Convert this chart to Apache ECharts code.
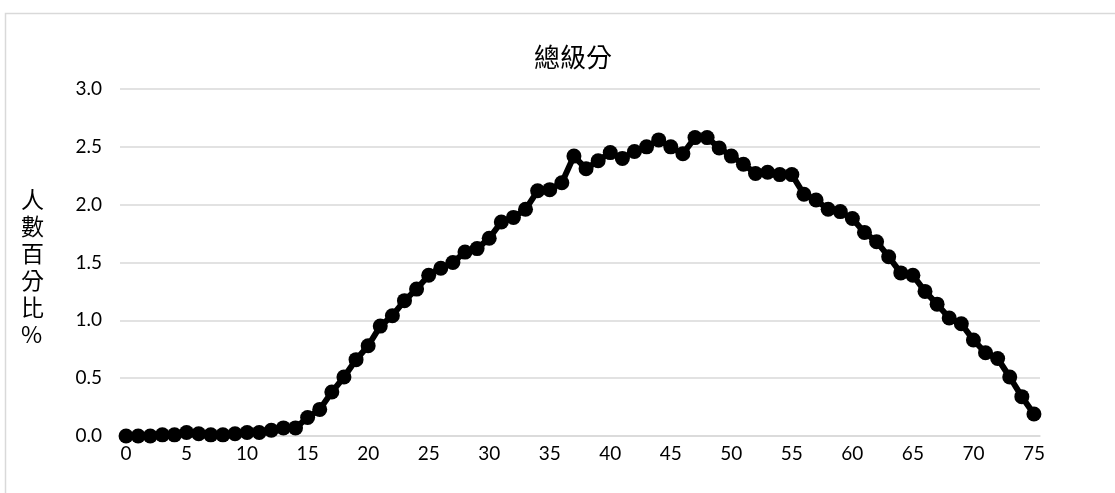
<!DOCTYPE html>
<html>
<head>
<meta charset="utf-8">
<script src="https://cdn.jsdelivr.net/npm/echarts@6/dist/echarts.min.js"></script>
<style>
  html, body { margin: 0; padding: 0; background: #fff; }
  #chart { width: 1115px; height: 493px; }
</style>
</head>
<body>
<div id="chart"></div>
<script>
// 級分 0..75
const scores = []
for (let s = 0; s <= 75; s++) scores.push(String(s))

// 人數百分比 (%)
const percents = [
  0.00, 0.00, 0.00, 0.01, 0.01, 0.03, 0.02, 0.01, 0.01, 0.02,
  0.03, 0.03, 0.05, 0.07, 0.07, 0.16, 0.23, 0.38, 0.51, 0.66,
  0.78, 0.95, 1.04, 1.17, 1.27, 1.39, 1.45, 1.50, 1.59, 1.62,
  1.71, 1.85, 1.89, 1.96, 2.12, 2.13, 2.19, 2.42, 2.31, 2.38,
  2.45, 2.40, 2.46, 2.50, 2.56, 2.50, 2.44, 2.58, 2.58, 2.49,
  2.42, 2.35, 2.27, 2.28, 2.26, 2.26, 2.09, 2.04, 1.96, 1.94,
  1.88, 1.76, 1.68, 1.55, 1.41, 1.39, 1.25, 1.14, 1.02, 0.97,
  0.83, 0.72, 0.67, 0.51, 0.34, 0.19
]

const yTicks = [0, 0.5, 1.0, 1.5, 2.0, 2.5, 3.0]

const chart = echarts.init(document.getElementById('chart'))
chart.setOption({
  animation: false,
  backgroundColor: '#fff',
  textStyle: { fontFamily: 'Lato, "Noto Sans CJK TC", sans-serif' },
  title: {
    text: '總級分',
    left: 529,
    top: 39,
    textStyle: {
      fontFamily: '"Noto Sans CJK TC", sans-serif',
      fontSize: 26,
      fontWeight: 'normal',
      color: '#000'
    }
  },
  graphic: [
    {
      type: 'rect',
      silent: true,
      shape: { x: 5.5, y: 13.5, width: 1200, height: 600 },
      style: { fill: 'none', stroke: '#d9d9d9', lineWidth: 1.5 }
    },
    {
      type: 'text',
      left: 21,
      top: 186,
      style: {
        text: '人\n數\n百\n分\n比\n%',
        font: '23px "Noto Sans CJK TC", sans-serif',
        lineHeight: 27,
        fill: '#000',
        align: 'center'
      }
    }
  ],
  grid: { left: 120, right: 75, top: 89, bottom: 57 },
  xAxis: {
    type: 'category',
    data: scores,
    boundaryGap: true,
    axisLine: { lineStyle: { color: '#d9d9d9', width: 1.5 } },
    axisTick: { show: false },
    axisLabel: {
      interval: 4,
      color: '#000',
      fontSize: 19,
      margin: 8
    }
  },
  yAxis: {
    type: 'value',
    min: yTicks[0],
    max: yTicks[yTicks.length - 1],
    interval: 0.5,
    axisLine: { show: false },
    axisTick: { show: false },
    axisLabel: {
      color: '#000',
      fontSize: 19,
      margin: 18,
      formatter: v => v.toFixed(1)
    },
    splitLine: { lineStyle: { color: '#d9d9d9', width: 1.5 } }
  },
  series: [
    {
      type: 'line',
      data: percents,
      symbol: 'circle',
      symbolSize: 15,
      showAllSymbol: true,
      lineStyle: { color: '#000', width: 6 },
      itemStyle: { color: '#000' }
    }
  ]
})
</script>
</body>
</html>
